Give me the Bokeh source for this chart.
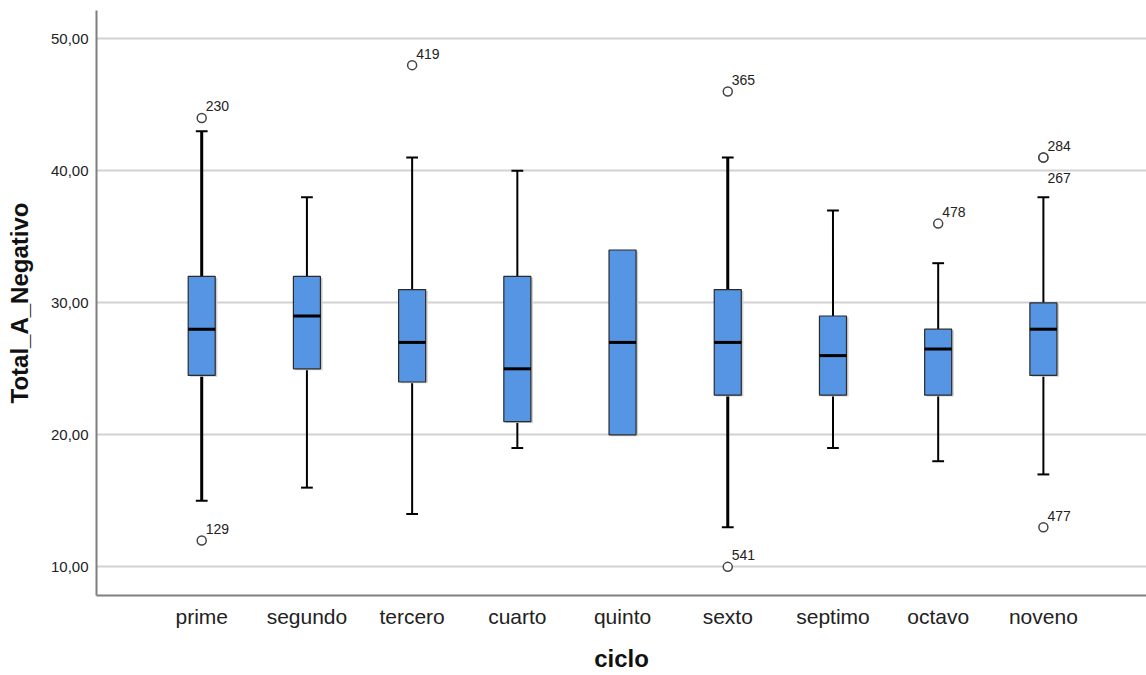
import numpy as np
from bokeh.plotting import figure
from bokeh.models import FixedTicker, Range1d
from bokeh.embed import file_html
from bokeh.resources import INLINE
from bokeh.core.properties import value

# ---- data ----
categories = ["prime", "segundo", "tercero", "cuarto", "quinto", "sexto", "septimo", "octavo", "noveno"]
whisker_low = [15, 16, 14, 19, 20, 13, 19, 18, 17]
q1 = [24.5, 25, 24, 21, 20, 23, 23, 23, 24.5]
median = [28, 29, 27, 25, 27, 27, 26, 26.5, 28]
q3 = [32, 32, 31, 32, 34, 31, 29, 28, 30]
whisker_high = [43, 38, 41, 40, 34, 41, 37, 33, 38]
outlier_cat = ["prime", "prime", "tercero", "sexto", "sexto", "octavo", "noveno", "noveno", "noveno"]
outlier_val = [44, 12, 48, 46, 10, 36, 41, 41, 13]
outlier_id = ["230", "129", "419", "365", "541", "478", "284", "267", "477"]
y_ticks = [10, 20, 30, 40, 50]

# ---- style ----
FONT = "Liberation Sans"
BOX_FILL = "#5595e3"
BOX_W = 0.257
CAP_W = 0.112
thick_whisker = {"prime", "sexto"}

xs = np.arange(1, len(categories) + 1, dtype=float)
pos = {c: i + 1.0 for i, c in enumerate(categories)}

p = figure(width=1146, height=675, output_backend="svg", toolbar_location=None,
           x_range=Range1d(0, 9.98), y_range=Range1d(7.83, 52.14),
           min_border_left=96, min_border_right=0, min_border_top=10, min_border_bottom=80)
p.outline_line_color = None
p.background_fill_color = "white"
p.border_fill_color = "white"

# grid
p.xgrid.grid_line_color = None
p.ygrid.ticker = FixedTicker(ticks=y_ticks)
p.ygrid.grid_line_color = "#d2d2d2"
p.ygrid.grid_line_width = 2

# axes
p.yaxis.ticker = FixedTicker(ticks=y_ticks)
p.yaxis.major_label_overrides = {t: f"{t:.2f}".replace(".", ",") for t in y_ticks}
p.xaxis.ticker = FixedTicker(ticks=list(xs))
p.xaxis.major_label_overrides = {float(x): c for x, c in zip(xs, categories)}
for ax in (p.xaxis[0], p.yaxis[0]):
    ax.axis_line_color = "#7f7f7f"
    ax.axis_line_width = 2
    ax.major_tick_line_color = None
    ax.minor_tick_line_color = None
    ax.major_tick_out = 0
    ax.major_tick_in = 0
    ax.major_label_text_font = FONT
    ax.axis_label_text_font = FONT
    ax.axis_label_text_font_style = "bold"
    ax.axis_label_text_font_size = "24px"
    ax.axis_label_text_color = "#111111"
    ax.major_label_text_color = "#222222"
p.yaxis.major_label_text_font_size = "15px"
p.yaxis.major_label_standoff = 8
p.yaxis.axis_label = "Total_A_Negativo"
p.yaxis.axis_label_standoff = 15
p.xaxis.major_label_text_font_size = "21px"
p.xaxis.major_label_standoff = 9
p.xaxis.axis_label = "ciclo"
p.xaxis.axis_label_standoff = 14

# whiskers (only where the whisker extends beyond the box)
ww = [3 if c in thick_whisker else 2 for c in categories]
hi = [i for i in range(len(categories)) if whisker_high[i] > q3[i]]
lo = [i for i in range(len(categories)) if whisker_low[i] < q1[i]]
p.segment(x0=xs[hi], y0=[q3[i] for i in hi], x1=xs[hi], y1=[whisker_high[i] for i in hi],
          line_color="black", line_width=[ww[i] for i in hi])
p.segment(x0=xs[lo], y0=[whisker_low[i] for i in lo], x1=xs[lo], y1=[q1[i] for i in lo],
          line_color="black", line_width=[ww[i] for i in lo])
p.segment(x0=xs[hi] - CAP_W / 2, y0=[whisker_high[i] for i in hi], x1=xs[hi] + CAP_W / 2,
          y1=[whisker_high[i] for i in hi], line_color="black", line_width=2)
p.segment(x0=xs[lo] - CAP_W / 2, y0=[whisker_low[i] for i in lo], x1=xs[lo] + CAP_W / 2,
          y1=[whisker_low[i] for i in lo], line_color="black", line_width=2)

# box shadow + box
p.vbar(x=xs + 0.02, width=BOX_W, top=np.array(q3) - 0.1, bottom=np.array(q1) - 0.1,
       fill_color="#cfcfcf", line_color=None)
p.vbar(x=xs, width=BOX_W, top=q3, bottom=q1, fill_color=BOX_FILL, line_color="#2b2b2b", line_width=1.2)
p.segment(x0=xs - BOX_W / 2, y0=median, x1=xs + BOX_W / 2, y1=median, line_color="black", line_width=3)

# outliers
ox = [pos[c] for c in outlier_cat]
p.scatter(x=ox, y=outlier_val, marker="circle", size=9, fill_color="white",
          line_color="#444444", line_width=1.5)
seen = set()
yoff = []
for c, v in zip(outlier_cat, outlier_val):
    key = (c, v)
    yoff.append(20 if key in seen else -11.5)
    seen.add(key)
p.text(x=ox, y=outlier_val, text=outlier_id, x_offset=4, y_offset=yoff,
       text_baseline="alphabetic", text_align="left", text_font=value(FONT),
       text_font_size="14px", text_color="#222222")

open("out.html", "w").write(file_html(p, INLINE))
